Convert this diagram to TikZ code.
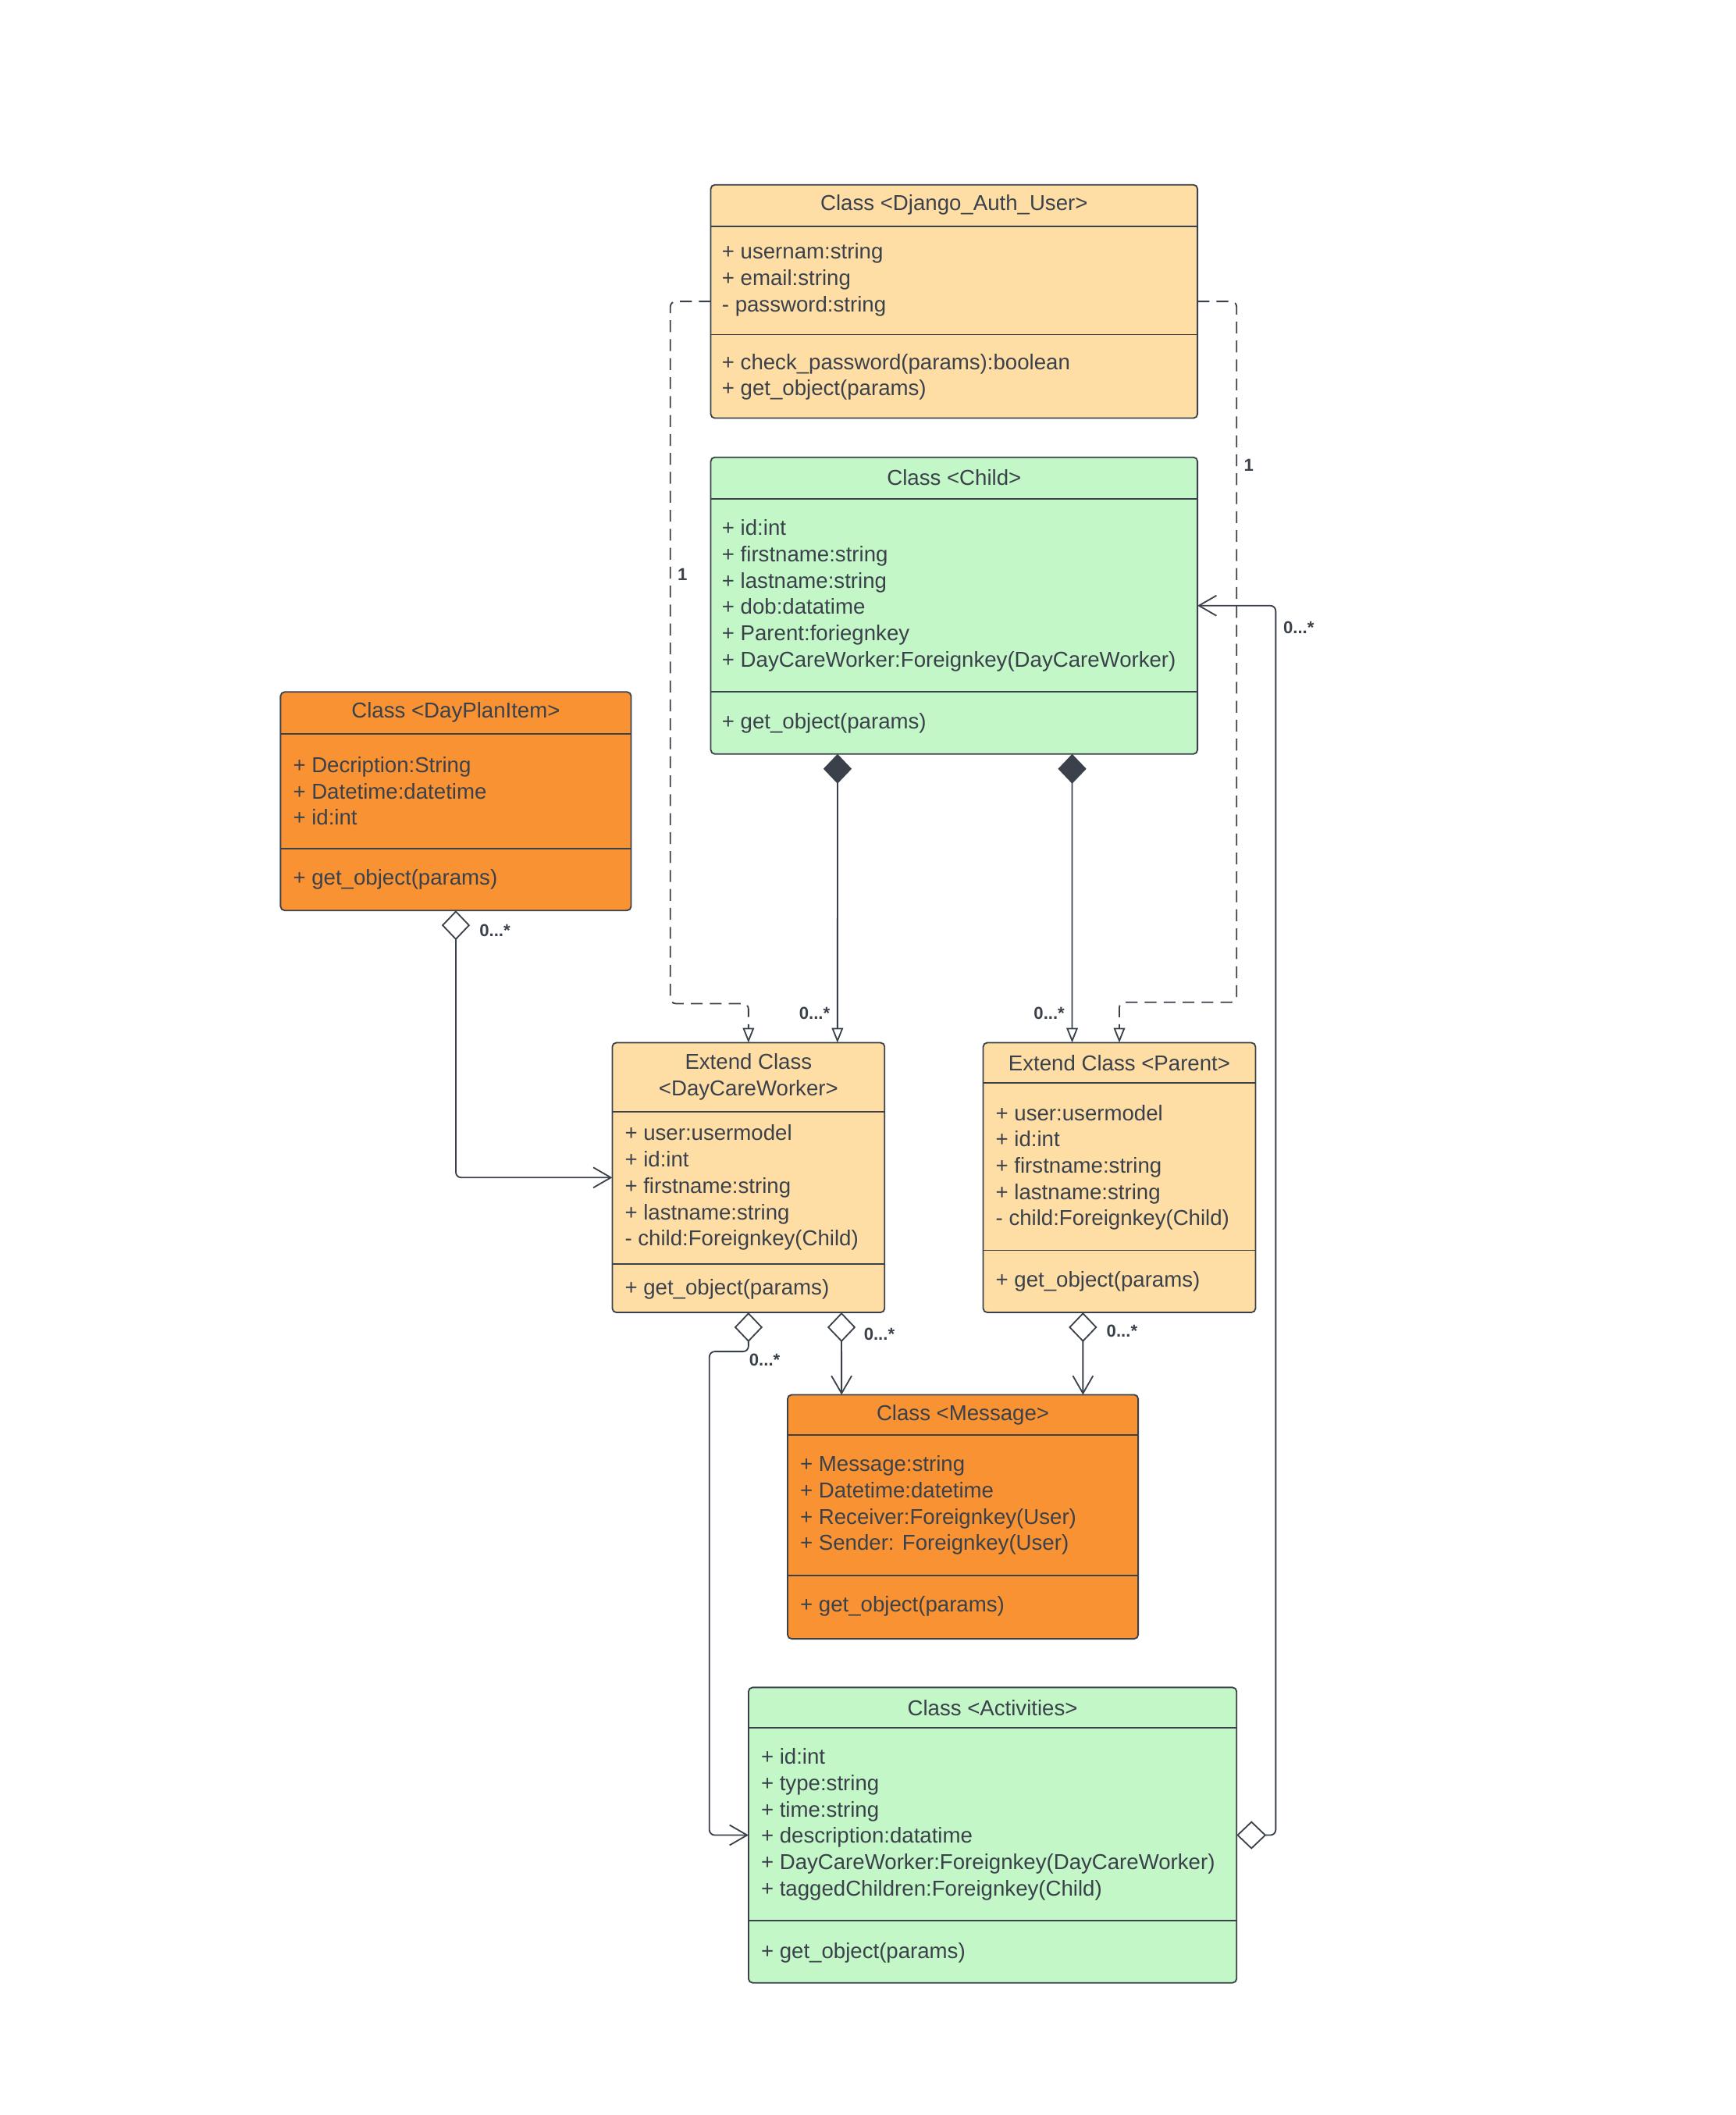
\documentclass[tikz,border=0pt]{standalone}
\usepackage{fontspec}
\setmainfont{Liberation Sans}
\usetikzlibrary{arrows.meta,calc}

\definecolor{ink}{HTML}{3A414A}
\definecolor{paleorange}{HTML}{FFDEA6}
\definecolor{palegreen}{HTML}{C3F7C8}
\definecolor{darkorange}{HTML}{F99233}

\tikzset{
  classbox/.style={draw=ink, line width=0.6pt, rounded corners=0.06cm, inner sep=0pt, outer sep=0pt},
  sepline/.style={draw=ink, line width=0.6pt},
  classtitle/.style={text=ink, font=\fontsize{9.1pt}{11.1pt}\selectfont, align=center, inner sep=0pt, yshift=-0.04cm},
  members/.style={text=ink, font=\fontsize{9.1pt}{11.1pt}\selectfont, align=left, anchor=west, inner sep=0pt, yshift=-0.04cm},
  mult/.style={text=ink, font=\fontsize{7.3pt}{8pt}\selectfont\bfseries, inner sep=0pt},
  assoc/.style={draw=ink, line width=0.6pt, rounded corners=0.08cm},
  realize/.style={assoc, dash pattern=on 5pt off 3pt, -{Triangle[open, length=0.22cm, width=0.17cm]}},
  comp/.style={assoc, {Diamond[length=0.44cm, width=0.42cm]}-{Triangle[open, length=0.22cm, width=0.17cm]}},
  aggr/.style={assoc, {Diamond[open, length=0.44cm, width=0.42cm]}-{Straight Barb[length=0.26cm, width=0.3cm]}},
}

\begin{document}
\begin{tikzpicture}[x=0.02cm, y=-0.02cm]
\useasboundingbox (0,0) rectangle (1287,1568);
%\draw[help lines, step=50] (0,0) grid (1287,1568);

% Django auth user
\node[classbox, fill=paleorange, minimum width=7.22cm, minimum height=3.46cm] (user) at (707.5,223.5) {};
\draw[sepline] (527,168) -- (888,168);
\draw[sepline] (527,248) -- (888,248);
\node[classtitle] (usert) at (707.5,150) {Class <Django\_Auth\_User>};
\node[members] (usera) at (535,205.5) {+ usernam:string\\+ email:string\\- password:string};
\node[members] (userm) at (535,277.5) {+ check\_password(params):boolean\\+ get\_object(params)};

% Child
\node[classbox, fill=palegreen, minimum width=7.22cm, minimum height=4.40cm] (child) at (707.5,449) {};
\draw[sepline] (527,370) -- (888,370);
\draw[sepline] (527,513) -- (888,513);
\node[classtitle] (childt) at (707.5,352) {Class <Child>};
\node[members] (childa) at (535,439.5) {+ id:int\\+ firstname:string\\+ lastname:string\\+ dob:datatime\\+ Parent:foriegnkey\\+ DayCareWorker:Foreignkey(DayCareWorker)};
\node[members] (childm) at (535,534) {+ get\_object(params)};

% DayPlanItem
\node[classbox, fill=darkorange, minimum width=5.20cm, minimum height=3.24cm] (plan) at (338,594) {};
\draw[sepline] (208,544) -- (468,544);
\draw[sepline] (208,629) -- (468,629);
\node[classtitle] (plant) at (338,526) {Class <DayPlanItem>};
\node[members] (plana) at (217,584.5) {+ Decription:String\\+ Datetime:datetime\\+ id:int};
\node[members] (planm) at (217,650) {+ get\_object(params)};

% DayCareWorker
\node[classbox, fill=paleorange, minimum width=4.04cm, minimum height=4.00cm] (worker) at (555,873) {};
\draw[sepline] (454,824) -- (656,824);
\draw[sepline] (454,937) -- (656,937);
\node[classtitle] (workert) at (555,796.5) {Extend Class\\<DayCareWorker>};
\node[members] (workera) at (463,878.5) {+ user:usermodel\\+ id:int\\+ firstname:string\\+ lastname:string\\- child:Foreignkey(Child)};
\node[members] (workerm) at (463,954) {+ get\_object(params)};

% Parent
\node[classbox, fill=paleorange, minimum width=4.04cm, minimum height=4.00cm] (parent) at (830,873) {};
\draw[sepline] (729,803) -- (931,803);
\draw[sepline] (729,927) -- (931,927);
\node[classtitle] (parentt) at (830,786) {Extend Class <Parent>};
\node[members] (parenta) at (738,863.5) {+ user:usermodel\\+ id:int\\+ firstname:string\\+ lastname:string\\- child:Foreignkey(Child)};
\node[members] (parentm) at (738,948) {+ get\_object(params)};

% Message
\node[classbox, fill=darkorange, minimum width=5.20cm, minimum height=3.62cm] (msg) at (714,1124.5) {};
\draw[sepline] (584,1064) -- (844,1064);
\draw[sepline] (584,1168) -- (844,1168);
\node[classtitle] (msgt) at (714,1047) {Class <Message>};
\node[members] (msga) at (593,1114) {+ Message:string\\+ Datetime:datetime\\+ Receiver:Foreignkey(User)\\+ Sender: Foreignkey(User)};
\node[members] (msgm) at (593,1189) {+ get\_object(params)};

% Activities
\node[classbox, fill=palegreen, minimum width=7.24cm, minimum height=4.38cm] (activ) at (736,1360.5) {};
\draw[sepline] (555,1281) -- (917,1281);
\draw[sepline] (555,1424) -- (917,1424);
\node[classtitle] (activt) at (736,1264) {Class <Activities>};
\node[members] (activa) at (564,1350.5) {+ id:int\\+ type:string\\+ time:string\\+ description:datatime\\+ DayCareWorker:Foreignkey(DayCareWorker)\\+ taggedChildren:Foreignkey(Child)};
\node[members] (activm) at (564,1446) {+ get\_object(params)};

% connectors
\draw[realize] (user.west) -- ++(-30,0) |- ($(worker.north)+(0,-29)$) -- (worker.north);
\draw[realize] (user.east) -- ++(29,0) |- ($(parent.north)+(0,-30)$) -- (parent.north);
\draw[comp] ($(child.south west)+(94,0)$) -- ($(worker.north east)+(-35,0)$);
\draw[comp] ($(child.south west)+(268,0)$) -- ($(parent.north west)+(66,0)$);
\draw[aggr] (plan.south) |- (worker.west);
\draw[aggr] (worker.south) -- ++(0,29) -- ++(-29,0) |- (activ.west);
\draw[aggr] ($(worker.south east)+(-32,0)$) -- ($(msg.north west)+(40,0)$);
\draw[aggr] ($(parent.south west)+(74,0)$) -- ($(msg.north west)+(219,0)$);
\draw[aggr] (activ.east) -- ++(29,0) |- (child.east);

% multiplicities
\node[mult] (one1) at (506,426) {1};
\node[mult] (one2) at (926,345) {1};
\node[mult] (m1) at (604,751) {0...*};
\node[mult] (m2) at (778,751) {0...*};
\node[mult] (m3) at (367,690) {0...*};
\node[mult] (m4) at (567,1008) {0...*};
\node[mult] (m5) at (652,989) {0...*};
\node[mult] (m6) at (832,987) {0...*};
\node[mult] (m7) at (963,465) {0...*};
\end{tikzpicture}
\end{document}
